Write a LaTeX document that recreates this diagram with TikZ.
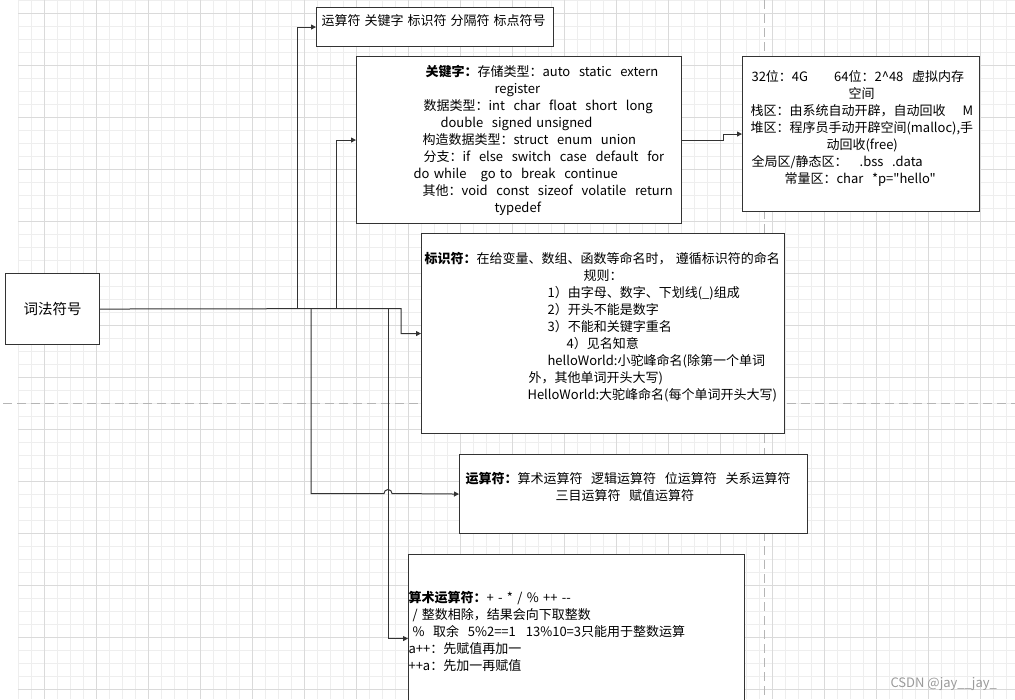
\documentclass[tikz,border=0pt]{standalone}
\usepackage{fontspec}
\setmainfont{Noto Sans CJK SC}[Ligatures=TeXOff]
\usetikzlibrary{arrows.meta}
\definecolor{ink}{HTML}{333333}
\definecolor{gridminor}{HTML}{EEEEEE}
\definecolor{gridmajor}{HTML}{DADADA}
\definecolor{pagebreak}{HTML}{B5B5B5}
\definecolor{wmark}{HTML}{9A9A9A}

\begin{document}
\begin{tikzpicture}[
  x=1pt,y=-1pt,
  block/.style={draw=ink,line width=1.1pt,fill=white,anchor=north west,inner sep=0pt,align=left},
  lift/.style={execute at end node={\rule[-15pt]{0pt}{15pt}}},
  flow/.style={-{Triangle[length=5pt,width=5pt]},ink,line width=1pt},
  every node/.append style={font=\fontsize{13}{17}\selectfont}
]
  \useasboundingbox (0,0) rectangle (1015,699);
  % grid paper
  \foreach \x in {18,31,...,1015} \draw[gridminor,line width=0.7pt] (\x,0) -- (\x,699);
  \foreach \y in {0,13,...,699} \draw[gridminor,line width=0.7pt] (18,\y) -- (1015,\y);
  \foreach \x in {44,96,...,1015} \draw[gridmajor,line width=0.8pt] (\x,0) -- (\x,699);
  \foreach \y in {13,65,...,699} \draw[gridmajor,line width=0.8pt] (18,\y) -- (1015,\y);
  \draw[pagebreak,line width=0.9pt,dash pattern=on 9pt off 5pt] (764,0) -- (764,699);
  \draw[pagebreak,line width=0.9pt,dash pattern=on 9pt off 5pt] (3,403) -- (1015,403);

  \node[block,align=center,text width=94pt,minimum height=71pt,font=\fontsize{14.5}{17}\selectfont] (lex) at (5,273) {词法符号};
  \node[block,lift,text width=237pt,minimum height=39pt] (sym) at (316,7)
    {\hspace*{5pt}\mbox{运算符\hspace{4pt}关键字\hspace{4pt}标识符\hspace{4pt}分隔符\hspace{4pt}标点符号}};
  \node[block,text width=325pt,minimum height=167pt] (kw) at (356,56)
    {\hspace*{69pt}\textbf{关键字：}存储类型：auto~ static~ extern\\
     \hspace*{138pt}register\\
     \hspace*{67pt}数据类型：int~ char~ float~ short~ long\\
     \hspace*{84pt}double~ signed unsigned\\
     \hspace*{66pt}构造数据类型：struct~ enum~ union\\
     \hspace*{67pt}分支：if~ else~ switch~ case~ default~ for\\
     \hspace*{57pt}do while\hspace{14pt}go to~ break~ continue\\
     \hspace*{66pt}其他：void~ const~ sizeof~ volatile~ return\\
     \hspace*{138pt}typedef};
  \node[block,lift,text width=237pt,minimum height=155pt] (mem) at (742,56)
    {\hspace*{9pt}32位：4G\hspace{26pt}64位：2\textasciicircum 48~ 虚拟内存\\
     \hspace*{106pt}空间\\
     \hspace*{8pt}栈区：由系统自动开辟，自动回收\hspace{17pt}M\\
     \hspace*{8pt}堆区：程序员手动开辟空间(malloc),手\\
     \hspace*{84pt}动回收(free)\\
     \hspace*{9pt}全局区/静态区：\hspace{12pt}.bss~ .data\\
     \hspace*{42pt}常量区：char~ *p="hello"};
  \node[block,lift,text width=363pt,minimum height=200pt] (idt) at (421,233)
    {\hspace*{3pt}\textbf{标识符：}在给变量、数组、函数等命名时， 遵循标识符的命名\\
     \hspace*{162pt}规则：\\
     \hspace*{126pt}1）由字母、数字、下划线(\_)组成\\
     \hspace*{126pt}2）开头不能是数字\\
     \hspace*{126pt}3）不能和关键字重名\\
     \hspace*{145pt}4）见名知意\\
     \hspace*{126pt}helloWorld:小驼峰命名(除第一个单词\\
     \hspace*{107pt}外，其他单词开头大写)\\
     \hspace*{106pt}HelloWorld:大驼峰命名(每个单词开头大写)};
  \node[block,lift,text width=348pt,minimum height=79pt] (ops) at (459,454)
    {\hspace*{6pt}\textbf{运算符：}算术运算符~ 逻辑运算符~ 位运算符~ 关系运算符\\
     \hspace*{96pt}三目运算符~ 赋值运算符};
  \node[block,lift,text width=336pt,minimum height=168pt] (ari) at (408,554)
    {\textbf{算术运算符：}+ - * / \% ++ --\\
     \hspace*{4pt}/ 整数相除，结果会向下取整数\\
     \hspace*{4pt}\%~ 取余~ 5\%2==1\hspace{10pt}13\%10=3只能用于整数运算\\
     a++：先赋值再加一\\
     ++a：先加一再赋值};
  \node[text=wmark,anchor=base west] (mark) at (887,687) {CSDN @jay\_\_jay\_};

  % branch points on the trunk
  \coordinate (up1) at (297,308.5);
  \coordinate (dn1) at (311,308.5);
  \coordinate (up2) at (336,308.5);
  \coordinate (dn2) at (388,308.5);
  \coordinate (bend) at (401,308.5);
  \coordinate (hop) at (384,493.5);

  \draw[flow] (lex.east) -- (bend) |- (idt.west);
  \draw[flow] (up1) |- (sym.west);
  \draw[flow] (up2) |- (kw.west);
  \draw[flow] (dn1) |- (hop) arc[start angle=180,end angle=0,radius=4pt] -- (ops.west);
  \draw[flow] (dn2) |- (ari.west);
  \draw[flow] (kw.east) -- ++(41,0) |- (mem.west);
\end{tikzpicture}
\end{document}
